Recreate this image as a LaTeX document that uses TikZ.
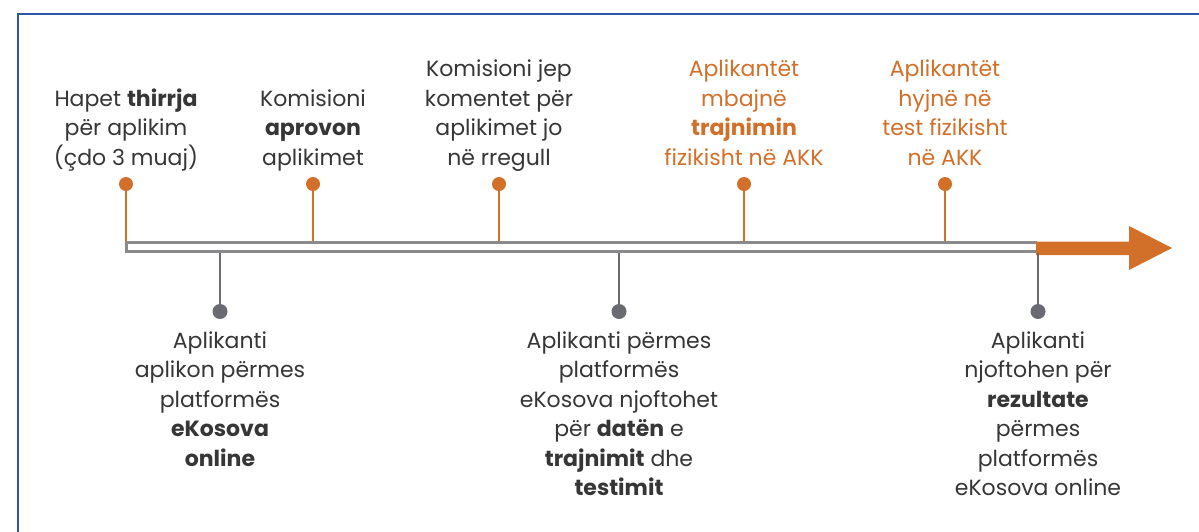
\documentclass[tikz,border=0pt]{standalone}
\usepackage{fontspec}
\setmainfont{Poppins}
\definecolor{orng}{HTML}{D2702A}
\definecolor{txtgray}{HTML}{363636}
\definecolor{bargray}{HTML}{8A8A8C}
\definecolor{stemgray}{HTML}{6A6A72}
\definecolor{frameblue}{HTML}{2A55A8}
\begin{document}
\begin{tikzpicture}[x=1pt,y=-1pt,
  lbl/.style={align=center, font=\fontsize{22}{29.5}\selectfont, text=txtgray, inner sep=0pt, anchor=base},
  olbl/.style={lbl, text=orng},
  ostem/.style={draw=orng, line width=2.5pt},
  odot/.style={circle, fill=orng, minimum size=14pt, inner sep=0pt},
  gstem/.style={draw=stemgray, line width=2.5pt},
  gdot/.style={circle, fill=stemgray, minimum size=15pt, inner sep=0pt},
  barline/.style={draw=bargray, line width=3pt}]
\useasboundingbox (0,0) rectangle (1199,531);
\fill[white] (0,0) rectangle (1199,531);
\draw[frameblue, line width=2.2pt] (18,532) -- (18,14) -- (1200,14);
% bar
\coordinate (barR1) at (1037,242.5);
\coordinate (barL1) at (126,242.5);
\coordinate (barL2) at (126,251.5);
\coordinate (barR2) at (1037,251.5);
\draw[barline] (barR1) -- (barL1) -- (barL2) -- (barR2);
% arrow
\fill[orng] (1036,241.5) -- (1129,241.5) -- (1129,226) -- (1172,248) -- (1129,270) -- (1129,255) -- (1036,255) -- cycle;
% top stems
\foreach \i/\x in {1/126,2/313,3/499,4/744,5/945}{
  \node[odot] (d\i) at (\x,184) {};
  \coordinate (b\i) at (\x,241);
  \draw[ostem] (d\i) -- (b\i);
}
% bottom stems
\foreach \i/\x in {1/220,2/619,3/1038}{
  \node[gdot] (g\i) at (\x,311.5) {};
  \coordinate (c\i) at (\x,253);
  \draw[gstem] (c\i) -- (g\i);
}
% top labels (anchor at baseline of last line)
\node[lbl] (t1) at (126,165) {Hapet \textbf{thirrja}\\për aplikim\\(çdo 3 muaj)};
\node[lbl] (t2) at (313,165) {Komisioni\\\textbf{aprovon}\\aplikimet};
\node[lbl] (t3) at (499,165) {Komisioni jep\\komentet për\\aplikimet jo\\në rregull};
\node[olbl] (t4) at (744,165) {Aplikantët\\mbajnë\\\textbf{trajnimin}\\fizikisht në AKK};
\node[olbl] (t5) at (945,165) {Aplikantët\\hyjnë në\\test fizikisht\\në AKK};
% bottom labels
\node[lbl] (s1) at (220,466) {Aplikanti\\aplikon përmes\\platformës\\\textbf{eKosova}\\\textbf{online}};
\node[lbl] (s2) at (619,495.5) {Aplikanti përmes\\platformës\\eKosova njoftohet\\për \textbf{datën} e\\\textbf{trajnimit} dhe\\\textbf{testimit}};
\node[lbl] (s3) at (1038,495.5) {Aplikanti\\njoftohen për\\\textbf{rezultate}\\përmes\\platformës\\eKosova online};
\end{tikzpicture}
\end{document}
